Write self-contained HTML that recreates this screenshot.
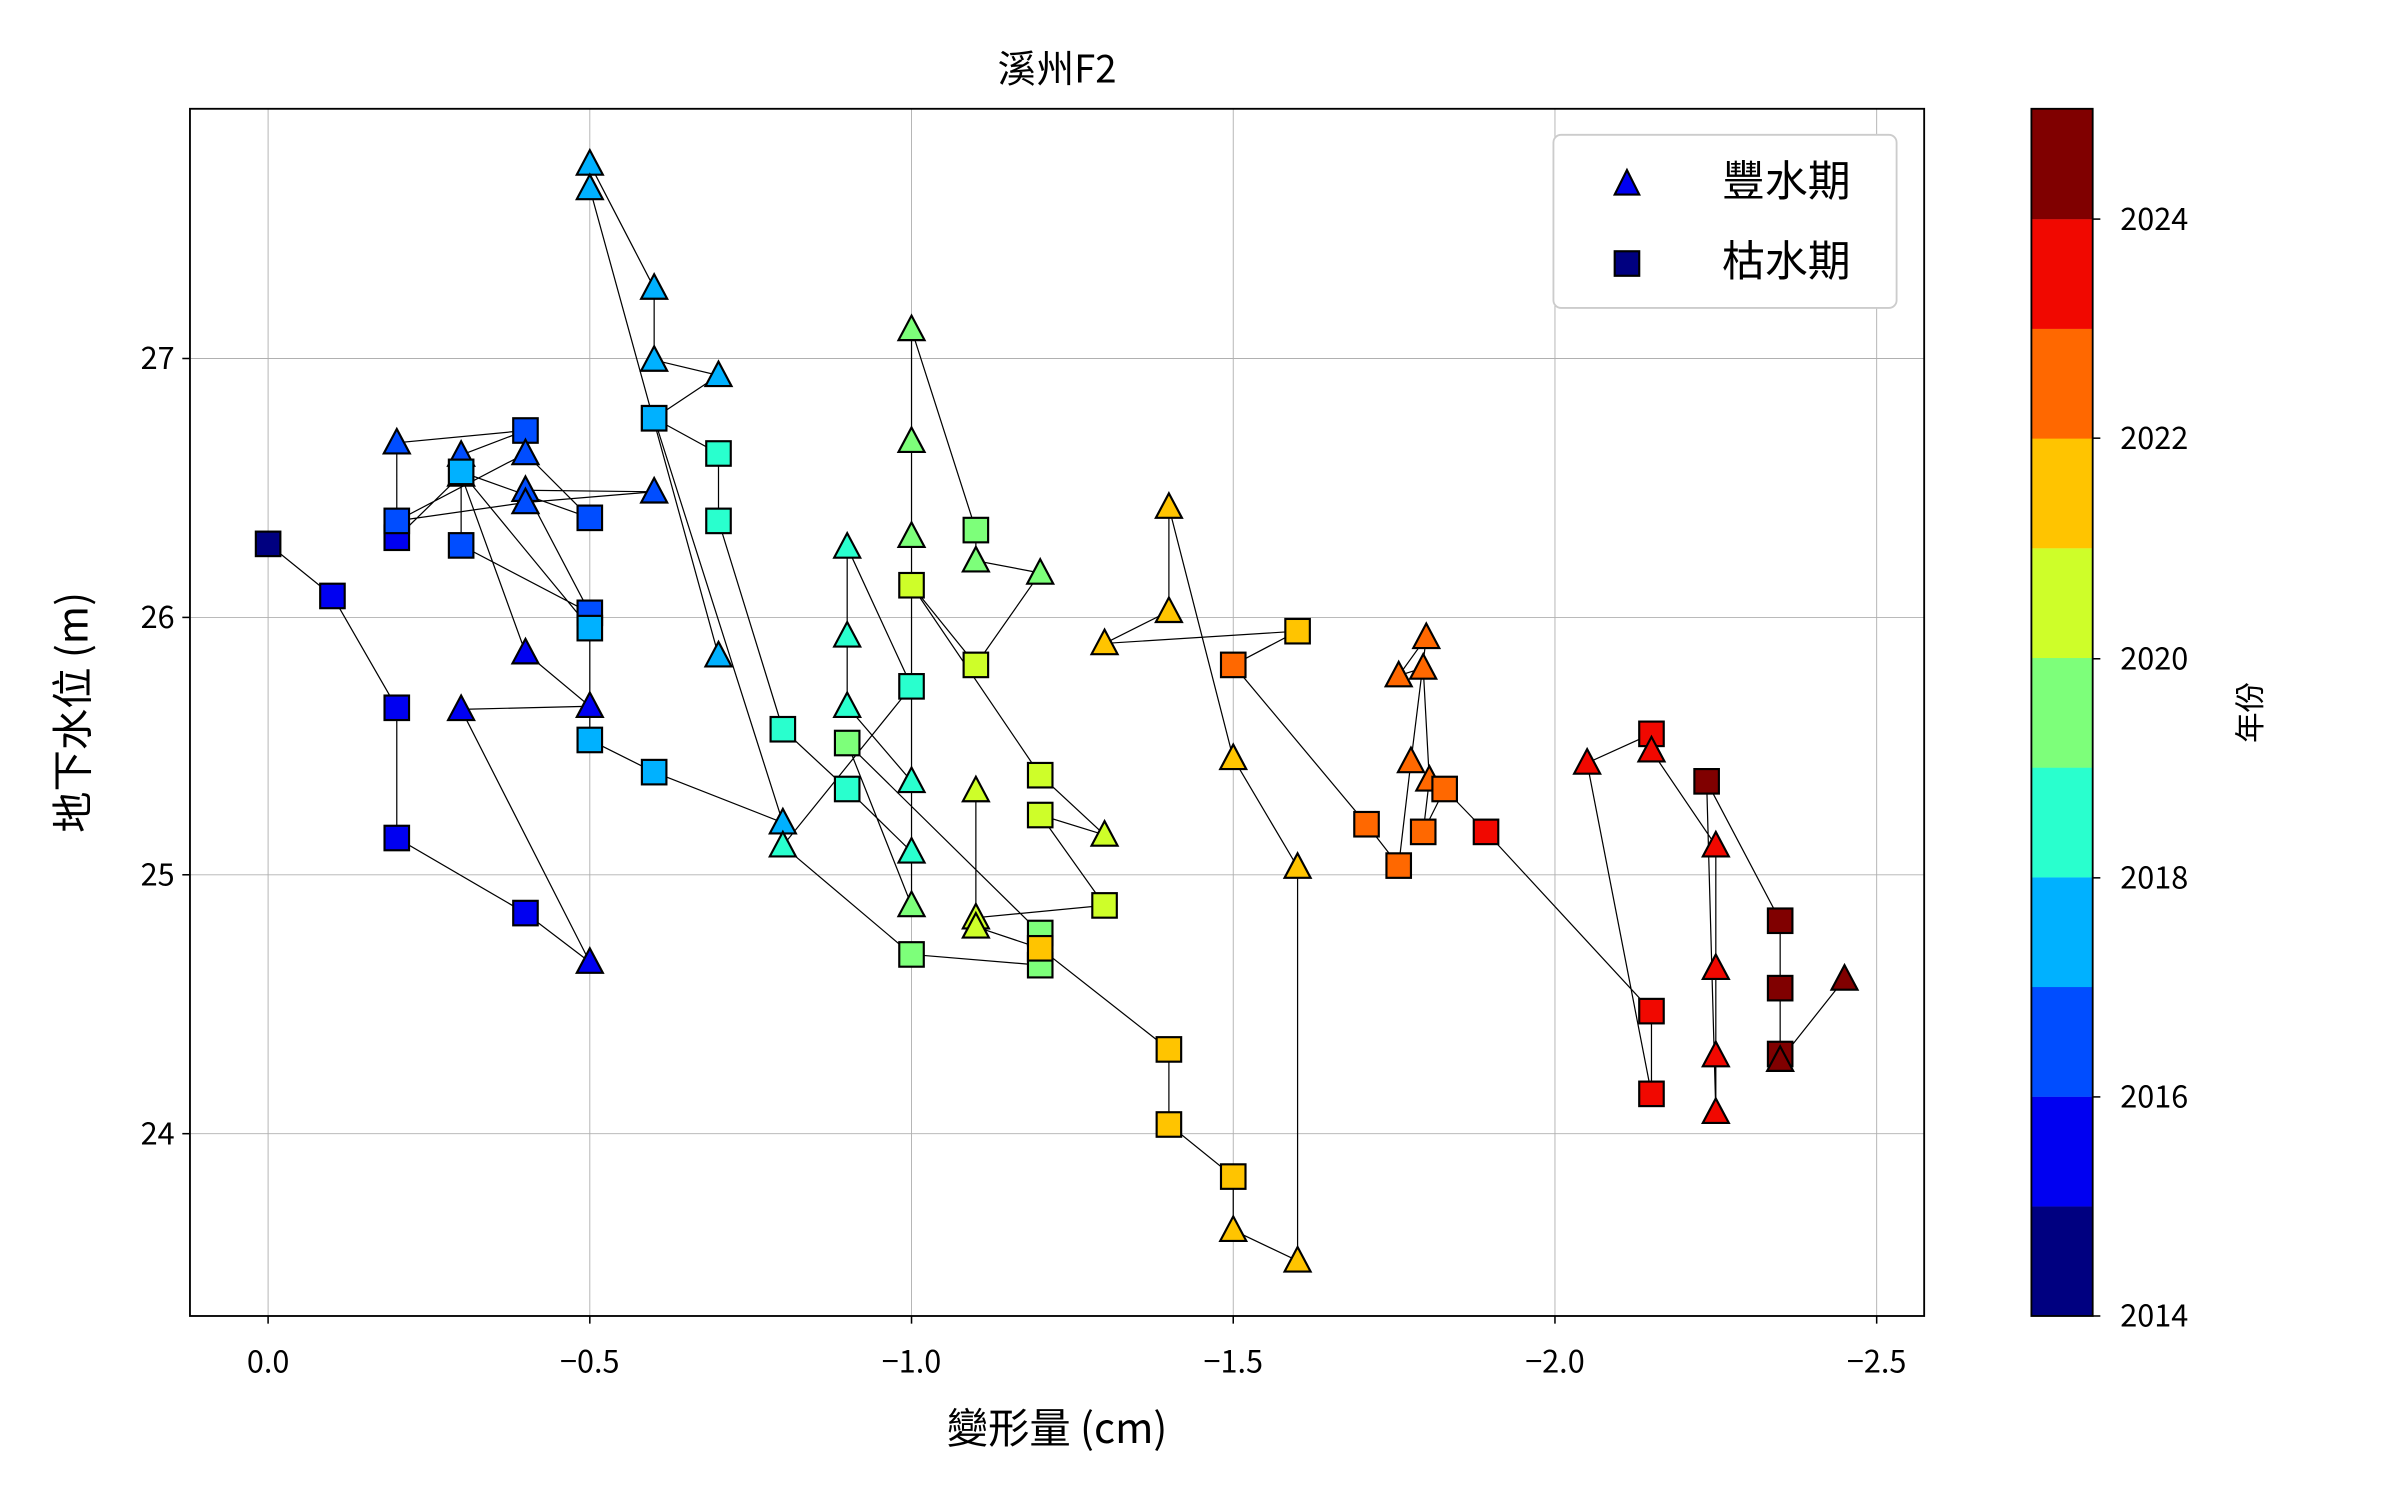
<!DOCTYPE html>
<html><head><meta charset="utf-8"><style>
html,body{margin:0;padding:0;background:#fff;}
svg{display:block;}
text{font-family:"Noto Sans CJK TC","Liberation Sans",sans-serif;fill:#000;}
</style></head><body>
<svg id="s" width="2400" height="1500" viewBox="0 0 1566.6 979.1" xmlns="http://www.w3.org/2000/svg">
<rect x="0" y="0" width="1566.6" height="979.1" fill="#fff"/>
<g id="grid" stroke="#b0b0b0" stroke-width="0.6">
<line x1="175" y1="71" x2="175" y2="859"/><line x1="385" y1="71" x2="385" y2="859"/>
<line x1="595" y1="71" x2="595" y2="859"/><line x1="805" y1="71" x2="805" y2="859"/>
<line x1="1015" y1="71" x2="1015" y2="859"/><line x1="1225" y1="71" x2="1225" y2="859"/>
<line x1="124" y1="234" x2="1256" y2="234"/><line x1="124" y1="403" x2="1256" y2="403"/>
<line x1="124" y1="571" x2="1256" y2="571"/><line x1="124" y1="740" x2="1256" y2="740"/>
</g>
<g id="data"></g>
<rect x="124" y="71" width="1132" height="788" fill="none" stroke="#000" stroke-width="1.2"/>
<g stroke="#000" stroke-width="1">
<line x1="175" y1="859" x2="175" y2="864"/><line x1="385" y1="859" x2="385" y2="864"/>
<line x1="595" y1="859" x2="595" y2="864"/><line x1="805" y1="859" x2="805" y2="864"/>
<line x1="1015" y1="859" x2="1015" y2="864"/><line x1="1225" y1="859" x2="1225" y2="864"/>
<line x1="119" y1="234" x2="124" y2="234"/><line x1="119" y1="403" x2="124" y2="403"/>
<line x1="119" y1="571" x2="124" y2="571"/><line x1="119" y1="740" x2="124" y2="740"/>
</g>
<g font-size="20" text-anchor="middle">
<text x="175" y="896">0.0</text><text x="385" y="896">−0.5</text><text x="595" y="896">−1.0</text>
<text x="805" y="896">−1.5</text><text x="1015" y="896">−2.0</text><text x="1225" y="896">−2.5</text>
</g>
<g font-size="20" text-anchor="end">
<text x="114" y="241">27</text><text x="114" y="410">26</text><text x="114" y="578">25</text><text x="114" y="747">24</text>
</g>
<text x="690" y="54" font-size="25" text-anchor="middle">溪州F2</text>
<text x="690" y="942" font-size="27" text-anchor="middle">變形量 (cm)</text>
<text transform="translate(57,465) rotate(-90)" font-size="27" text-anchor="middle">地下水位 (m)</text>
<rect x="1014" y="88" width="224" height="113" rx="5" fill="#fff" stroke="#cccccc" stroke-width="1.2"/>
<polygon points="1062,111 1070,127 1054,127" fill="#0000f1" stroke="#000" stroke-width="1.4"/>
<rect x="1054" y="164" width="16" height="16" fill="#000080" stroke="#000" stroke-width="1.4"/>
<text x="1124" y="128" font-size="28">豐水期</text>
<text x="1124" y="180" font-size="28">枯水期</text>
<g id="cb"></g>
<rect x="1326" y="71" width="40" height="788" fill="none" stroke="#000" stroke-width="1.2"/>
<g font-size="20">
<text x="1384" y="866">2014</text><text x="1384" y="723">2016</text><text x="1384" y="580">2018</text>
<text x="1384" y="437">2020</text><text x="1384" y="293">2022</text><text x="1384" y="150">2024</text>
</g>
<g stroke="#000" stroke-width="1">
<line x1="1366" y1="859" x2="1371" y2="859"/><line x1="1366" y1="716" x2="1371" y2="716"/>
<line x1="1366" y1="573" x2="1371" y2="573"/><line x1="1366" y1="430" x2="1371" y2="430"/>
<line x1="1366" y1="286" x2="1371" y2="286"/><line x1="1366" y1="143" x2="1371" y2="143"/>
</g>
<text transform="translate(1476,465) rotate(-90)" font-size="20" text-anchor="middle">年份</text>
</svg>
<script>
var C=["#000080","#0000f1","#004dff","#00b1ff","#29ffce","#7dff7a","#cefe29","#ffc400","#ff6800","#f10800","#800000"];
var cb=document.getElementById("cb"),h="";
for(var i=0;i<11;i++){var y0=859-(i+1)*71.6;h+='<rect x="1326" y="'+y0+'" width="40" height="71.7" fill="'+C[i]+'"/>';}
cb.innerHTML=h;
var P=[["S",175,355,0],["S",217,389,1],["S",259,462,1],["S",259,547,1],["S",343,596,1],["T",385,628,1],["T",301,463,1],["T",385,461,1],["T",343,426,1],["T",301,310,1],["S",259,351,1],["T",259,289,2],["S",343,281,2],["T",301,297,2],["S",301,356,2],["S",385,400,2],["T",343,320,2],["T",427,321,2],["T",343,328,2],["S",259,340,2],["T",343,296,2],["S",385,338,2],["S",301,308,3],["S",385,410,3],["S",385,483,3],["S",427,504,3],["T",511,537,3],["S",427,273,3],["T",469,245,3],["T",427,235,3],["T",427,188,3],["T",385,107,3],["T",385,123,3],["T",469,428,3],["B"],["S",427,273,3],["S",469,296,4],["S",469,340,4],["S",511,476,4],["S",553,515,4],["T",595,556,4],["T",595,510,4],["T",553,461,4],["T",553,415,4],["T",553,357,4],["S",595,448,4],["T",511,552,4],["S",595,623,5],["S",679,630,5],["S",679,609,5],["S",553,485,5],["T",595,591,5],["T",595,350,5],["T",595,288,5],["T",595,215,5],["S",637,346,5],["T",637,366,5],["T",679,374,5],["S",637,434,6],["S",595,382,6],["S",679,506,6],["T",721,545,6],["S",679,532,6],["S",721,591,6],["T",637,599,6],["T",637,516,6],["T",637,605,6],["S",679,619,7],["S",763,685,7],["S",763,734,7],["S",805,768,7],["T",805,803,7],["T",847,823,7],["T",847,566,7],["T",805,495,7],["T",763,331,7],["T",763,399,7],["T",721,420,7],["S",847,412,7],["S",805,434,8],["S",892,538,8],["S",913,565,8],["T",921,497,8],["T",931,416,8],["T",913,441,8],["T",929,436,8],["T",933,509,8],["S",929,543,8],["S",943,515,8],["S",970,543,9],["S",1078,660,9],["S",1078,714,9],["T",1036,498,9],["S",1078,479,9],["T",1078,490,9],["T",1120,552,9],["T",1120,632,9],["T",1120,689,9],["T",1120,726,9],["S",1114,510,10],["S",1162,601,10],["S",1162,645,10],["S",1162,688,10],["T",1162,692,10],["T",1204,639,10]];
var d="",path="",mv=true;
P.forEach(function(p){if(p[0]=="B"){mv=true;return;}path+=(mv?"M":"L")+p[1]+","+p[2]+" ";mv=false;});
d+='<path d="'+path+'" fill="none" stroke="#000" stroke-width="0.8"/>';
P.forEach(function(p){if(p[0]=="B")return;var x=p[1],y=p[2],c=C[p[3]];
if(p[0]=="S")d+='<rect x="'+(x-8)+'" y="'+(y-8)+'" width="16" height="16" fill="'+c+'" stroke="#000" stroke-width="1.4"/>';
else d+='<polygon points="'+x+','+(y-9)+' '+(x+8.5)+','+(y+7)+' '+(x-8.5)+','+(y+7)+'" fill="'+c+'" stroke="#000" stroke-width="1.4"/>';});
document.getElementById("data").innerHTML=d;
</script>
</body></html>
